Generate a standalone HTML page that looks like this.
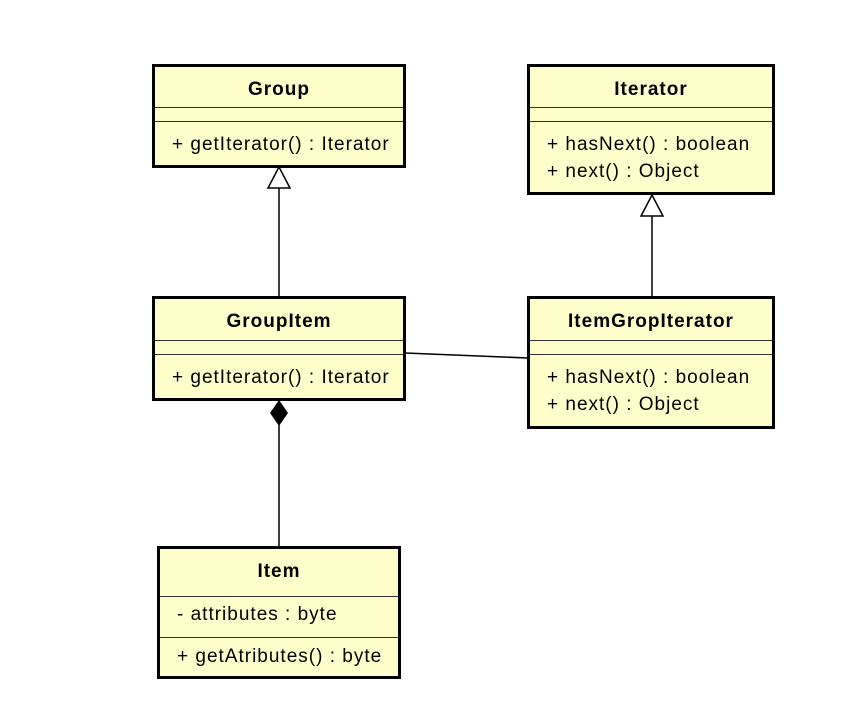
<!DOCTYPE html>
<html><head><style>
body{margin:0;background:#fff;width:841px;height:718px;position:relative;font-family:"Liberation Sans",Arial,sans-serif;}
.b{position:absolute;background:#ffffcc;border:3px solid #000;box-sizing:border-box;}
.t{position:absolute;left:0;right:0;text-align:center;font-weight:bold;font-size:19px;letter-spacing:1px;}
.s{position:absolute;left:0;right:0;border-top:1.5px solid #333;}
.m{position:absolute;left:17px;font-size:19px;letter-spacing:1px;white-space:nowrap;}
svg{position:absolute;left:0;top:0;}
</style></head><body>
<svg width="841" height="718">
<line x1="279" y1="188" x2="279" y2="296" stroke="#000" stroke-width="1.5"/>
<polygon points="279,167 268,188 290,188" fill="#fff" stroke="#000" stroke-width="1.5"/>
<line x1="652" y1="216" x2="652" y2="296" stroke="#000" stroke-width="1.5"/>
<polygon points="652,195 641,216 663,216" fill="#fff" stroke="#000" stroke-width="1.5"/>
<line x1="279" y1="425" x2="279" y2="547" stroke="#000" stroke-width="1.5"/>
<polygon points="279,400 288,413 279,426 270,413" fill="#000"/>
<line x1="405" y1="353" x2="528" y2="358" stroke="#000" stroke-width="1.5"/>
</svg>
<div class="b" style="left:152px;top:64px;width:254px;height:104px">
<div class="t" style="top:12px">Group</div>
<div class="s" style="top:40px"></div><div class="s" style="top:54px"></div>
<div class="m" style="top:67px">+ getIterator() : Iterator</div></div>
<div class="b" style="left:527px;top:64px;width:248px;height:131px">
<div class="t" style="top:12px">Iterator</div>
<div class="s" style="top:40px"></div><div class="s" style="top:54px"></div>
<div class="m" style="top:67px">+ hasNext() : boolean</div>
<div class="m" style="top:94px">+ next() : Object</div></div>
<div class="b" style="left:152px;top:296px;width:254px;height:105px">
<div class="t" style="top:12px">GroupItem</div>
<div class="s" style="top:41px"></div><div class="s" style="top:55px"></div>
<div class="m" style="top:68px">+ getIterator() : Iterator</div></div>
<div class="b" style="left:527px;top:296px;width:248px;height:133px">
<div class="t" style="top:12px">ItemGropIterator</div>
<div class="s" style="top:41px"></div><div class="s" style="top:55px"></div>
<div class="m" style="top:68px">+ hasNext() : boolean</div>
<div class="m" style="top:95px">+ next() : Object</div></div>
<div class="b" style="left:157px;top:546px;width:244px;height:133px">
<div class="t" style="top:12px">Item</div>
<div class="s" style="top:47px"></div>
<div class="m" style="top:55px">- attributes : byte</div>
<div class="s" style="top:88px"></div>
<div class="m" style="top:97px">+ getAtributes() : byte</div></div>
</body></html>
